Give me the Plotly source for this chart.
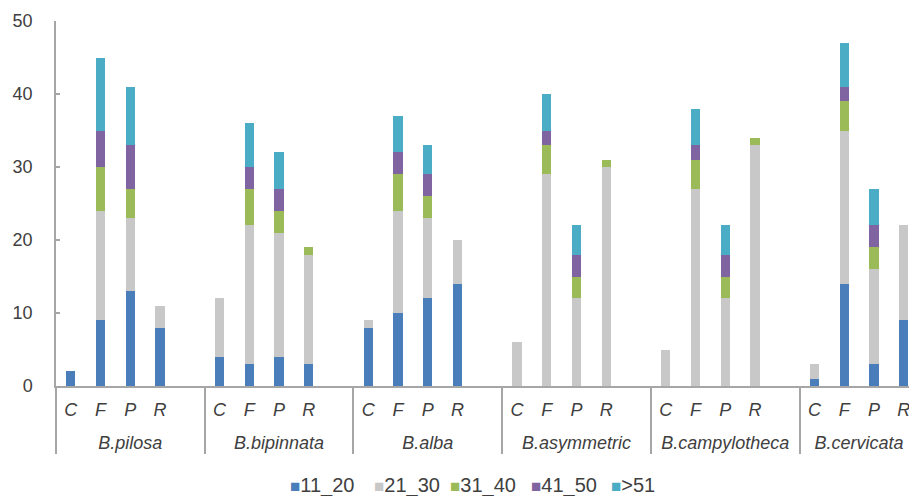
import plotly.graph_objects as go

species = ["B.pilosa", "B.bipinnata", "B.alba", "B.asymmetric", "B.campylotheca", "B.cervicata"]
sites = ["C", "F", "P", "R"]
series_names = ["11_20", "21_30", "31_40", "41_50", ">51"]
colors = ["#4a7ebb", "#c8c8c8", "#9bbb59", "#8064a2", "#4bacc6"]

# values per species, in order C, F, P, R
s11_20 = [2, 9, 13, 8,   4, 3, 4, 3,    8, 10, 12, 14,  0, 0, 0, 0,   0, 0, 0, 0,    1, 14, 3, 9]
s21_30 = [0, 15, 10, 3,  8, 19, 17, 15, 1, 14, 11, 6,   6, 29, 12, 30, 5, 27, 12, 33, 2, 21, 13, 13]
s31_40 = [0, 6, 4, 0,    0, 5, 3, 1,    0, 5, 3, 0,     0, 4, 3, 1,   0, 4, 3, 1,    0, 4, 3, 0]
s41_50 = [0, 5, 6, 0,    0, 3, 3, 0,    0, 3, 3, 0,     0, 2, 3, 0,   0, 2, 3, 0,    0, 2, 3, 0]
s51 = [0, 10, 8, 0,      0, 6, 5, 0,    0, 5, 4, 0,     0, 5, 4, 0,   0, 5, 4, 0,    0, 6, 5, 0]
series_values = [s11_20, s21_30, s31_40, s41_50, s51]

# legend entry left positions (px, layout only)
legend_x_px = [250, 334, 410, 491, 571]

# build multicategory x with an empty spacer slot after each species group
spacer = "<span style='font-size:28px'>\u00a0</span>"
lvl_group, lvl_site = [], []
for sp in species:
    for st in sites + [spacer]:
        lvl_group.append(sp)
        lvl_site.append(st)

def expand(vals):
    out = []
    for g in range(len(species)):
        out.extend(vals[g * 4:(g + 1) * 4])
        out.append(None)
    return out

W, H = 909, 496
font_fam = "Liberation Sans, Arial, sans-serif"

fig = go.Figure()
for i, (name, col, vals) in enumerate(zip(series_names, colors, series_values)):
    ev = expand(vals)
    ev = [None if v == 0 else v for v in ev]
    lg = "legend" if i == 0 else f"legend{i + 1}"
    fig.add_trace(go.Bar(
        x=[lvl_group, lvl_site], y=ev, name=name,
        marker=dict(color=col, line=dict(width=0)),
        width=0.31, showlegend=False, legend=lg,
    ))
    # legend-only entry: square glyph in the series colour, then the name
    fig.add_trace(go.Scatter(
        x=[[None], [None]], y=[None], mode="markers",
        name=f"<span style='font-size:17px;color:{col}'>\u25a0</span>{name}",
        marker=dict(symbol="square", size=1, color="rgba(0,0,0,0)"),
        showlegend=True, legend=lg, hoverinfo="skip",
    ))

legend_common = dict(
    orientation="h", xref="container", yref="container",
    xanchor="left", y=(H - 484) / H, yanchor="middle",
    font=dict(family=font_fam, size=20, color="#404040"),
    itemwidth=30, itemsizing="trace", bgcolor="rgba(0,0,0,0)",
)
legends = {}
for i, xp in enumerate(legend_x_px):
    key = "legend" if i == 0 else f"legend{i + 1}"
    legends[key] = dict(legend_common, x=xp / W)

fig.update_layout(
    barmode="stack",
    width=W, height=H,
    margin=dict(l=56, r=0, t=21, b=110),
    plot_bgcolor="white", paper_bgcolor="white",
    font=dict(family=font_fam, size=18, color="#404040"),
    showlegend=True,
    **legends,
)
fig.update_xaxes(
    type="multicategory",
    automargin=False,
    range=[-0.5, 28.18],
    showline=True, linecolor="#a6a6a6", linewidth=1.5,
    showgrid=False, tickson="labels",
    ticks="outside", ticklen=7, tickcolor="rgba(0,0,0,0)",
    showdividers=True, dividercolor="#a6a6a6", dividerwidth=1.5,
    tickfont=dict(family=font_fam, size=18, color="#404040", style="italic"),
)
fig.update_yaxes(
    automargin=False,
    range=[0, 50], dtick=10,
    showline=True, linecolor="#a6a6a6", linewidth=1.5,
    showgrid=False, zeroline=False,
    ticks="inside", ticklen=4, tickcolor="#a6a6a6", tickwidth=1.5,
    ticklabelstandoff=18,
    tickfont=dict(family=font_fam, size=18, color="#404040"),
)

fig.write_html(
    "out.html",
    config={"displayModeBar": False},
    post_script="document.body.style.margin='0';document.body.style.overflow='hidden';",
)
